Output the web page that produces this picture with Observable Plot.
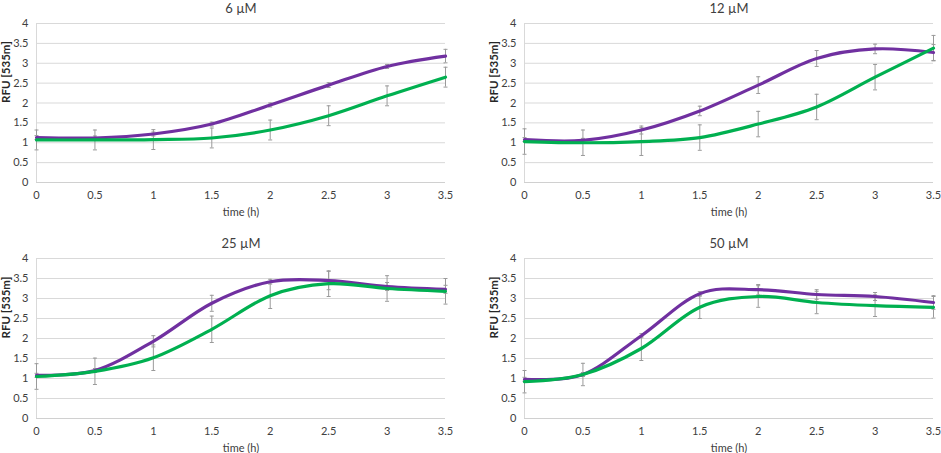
<!DOCTYPE html>
<html>
<head>
<meta charset="utf-8">
<script src="https://cdn.jsdelivr.net/npm/d3@7"></script>
<script src="https://cdn.jsdelivr.net/npm/@observablehq/plot@0.6"></script>
<style>
  html, body { margin: 0; padding: 0; background: #fff; }
  #wrap { position: relative; width: 941px; height: 453px; overflow: hidden; }
  #wrap svg { position: absolute; font-family: Lato, "Open Sans", sans-serif; }
</style>
</head>
<body>
<div id="wrap"></div>
<script>
// ---- data ----
const times = [0, 0.5, 1, 1.5, 2, 2.5, 3, 3.5];
const xTicks = [0, 0.5, 1, 1.5, 2, 2.5, 3, 3.5];
const yTicks = [0, 0.5, 1, 1.5, 2, 2.5, 3, 3.5, 4];
const panelTitles = ["6 µM", "12 µM", "25 µM", "50 µM"];
const xLabel = "time (h)";
const yLabel = "RFU [535m]";

const purple6 = [1.13, 1.12, 1.22, 1.47, 1.95, 2.45, 2.92, 3.18];
const green6  = [1.07, 1.07, 1.08, 1.12, 1.32, 1.68, 2.18, 2.65];
const purpleErr6 = [0.05, 0.05, 0.05, 0.05, 0.05, 0.06, 0.05, 0.17];
const greenErr6  = [0.25, 0.25, 0.25, 0.25, 0.25, 0.25, 0.25, 0.25];

const purple12 = [1.08, 1.06, 1.32, 1.80, 2.45, 3.12, 3.36, 3.27];
const green12  = [1.03, 1.00, 1.03, 1.13, 1.47, 1.90, 2.65, 3.38];
const purpleErr12 = [0.05, 0.05, 0.10, 0.12, 0.21, 0.20, 0.12, 0.20];
const greenErr12  = [0.32, 0.32, 0.35, 0.32, 0.32, 0.32, 0.32, 0.32];

const purple25 = [1.08, 1.20, 1.93, 2.88, 3.42, 3.45, 3.30, 3.23];
const green25  = [1.05, 1.18, 1.52, 2.23, 3.07, 3.37, 3.25, 3.18];
const purpleErr25 = [0.05, 0.05, 0.14, 0.20, 0.06, 0.23, 0.10, 0.10];
const greenErr25  = [0.32, 0.33, 0.32, 0.33, 0.32, 0.32, 0.32, 0.32];

const purple50 = [0.98, 1.10, 2.07, 3.12, 3.22, 3.10, 3.05, 2.90];
const green50  = [0.92, 1.10, 1.75, 2.78, 3.05, 2.90, 2.82, 2.78];
const purpleErr50 = [0.05, 0.05, 0.05, 0.05, 0.13, 0.12, 0.10, 0.17];
const greenErr50  = [0.28, 0.28, 0.30, 0.28, 0.27, 0.28, 0.27, 0.27];

const seriesColors = { purple: "#7030A0", green: "#00B050" };

// ---- build ----
const panels = [
  { title: panelTitles[0], p: purple6,  g: green6,  pe: purpleErr6,  ge: greenErr6 },
  { title: panelTitles[1], p: purple12, g: green12, pe: purpleErr12, ge: greenErr12 },
  { title: panelTitles[2], p: purple25, g: green25, pe: purpleErr25, ge: greenErr25 },
  { title: panelTitles[3], p: purple50, g: green50, pe: purpleErr50, ge: greenErr50 }
];

const layout = [
  { left: 0,   top: 0,   width: 470, height: 226, mt: 23, mb: 44, ml: 36, mr: 25 },
  { left: 470, top: 0,   width: 471, height: 226, mt: 23, mb: 44, ml: 54, mr: 8 },
  { left: 0,   top: 226, width: 470, height: 227, mt: 32, mb: 35, ml: 36, mr: 25 },
  { left: 470, top: 226, width: 471, height: 227, mt: 32, mb: 35, ml: 54, mr: 8 }
];

const capSymbol = {
  draw(context, size) {
    const w = 2;
    context.moveTo(-w, 0);
    context.lineTo(w, 0);
  }
};

const wrap = document.getElementById("wrap");

panels.forEach((pan, i) => {
  const L = layout[i];
  const rows = [];
  times.forEach((t, k) => {
    rows.push({ t, v: pan.p[k], e: pan.pe[k], s: "purple" });
    rows.push({ t, v: pan.g[k], e: pan.ge[k], s: "green" });
  });
  const purpleRows = rows.filter(d => d.s === "purple");
  const greenRows = rows.filter(d => d.s === "green");

  const chart = Plot.plot({
    width: L.width,
    height: L.height,
    marginTop: L.mt,
    marginBottom: L.mb,
    marginLeft: L.ml,
    marginRight: L.mr,
    style: { fontFamily: "Lato, 'Open Sans', sans-serif", background: "transparent" },
    x: { domain: [0, 3.5], ticks: xTicks, tickFormat: d => String(d), tickSize: 0, tickPadding: 9, label: null },
    y: { domain: [0, 4], ticks: yTicks, tickFormat: d => String(d), tickSize: 0, tickPadding: 8, label: null },
    marks: [
      Plot.gridY(yTicks, { stroke: "#d9d9d9", strokeOpacity: 1, strokeWidth: 1 }),
      Plot.ruleX([0], { stroke: "#d9d9d9", strokeWidth: 1 }),
      Plot.ruleY([0], { stroke: "#d0d0d0", strokeWidth: 1 }),
      Plot.axisX({ ticks: xTicks, tickFormat: d => String(d), tickSize: 0, tickPadding: 9, fontSize: 11, fill: "#404040", label: null }),
      Plot.axisY({ ticks: yTicks, tickFormat: d => String(d), tickSize: 0, tickPadding: 8, fontSize: 11, fill: "#404040", label: null }),
      // error bars
      Plot.ruleX(rows, { x: "t", y1: d => d.v - d.e, y2: d => d.v + d.e, stroke: "#9a9a9a", strokeWidth: 1 }),
      Plot.dot(rows, { x: "t", y: d => d.v - d.e, symbol: capSymbol, r: 2, stroke: "#9a9a9a", strokeWidth: 1, fill: "none" }),
      Plot.dot(rows, { x: "t", y: d => d.v + d.e, symbol: capSymbol, r: 2, stroke: "#9a9a9a", strokeWidth: 1, fill: "none" }),
      // lines
      Plot.line(purpleRows, { x: "t", y: "v", stroke: seriesColors.purple, strokeWidth: 3.2, curve: "cardinal" }),
      Plot.line(greenRows, { x: "t", y: "v", stroke: seriesColors.green, strokeWidth: 3.2, curve: "cardinal" }),
      // title & axis labels
      Plot.text([pan.title], { frameAnchor: "top", dy: -15, text: d => d, fontSize: 13, fill: "#404040", lineAnchor: "middle" }),
      Plot.text([xLabel], { frameAnchor: "bottom", dy: 30, text: d => d, fontSize: 11, fill: "#404040", lineAnchor: "middle" }),
      Plot.text([yLabel], { frameAnchor: "left", dx: -30, text: d => d, rotate: -90, fontSize: 11.5, fontWeight: "bold", fill: "#262626", lineAnchor: "middle" })
    ]
  });
  chart.style.left = L.left + "px";
  chart.style.top = L.top + "px";
  wrap.appendChild(chart);
});
</script>
</body>
</html>
